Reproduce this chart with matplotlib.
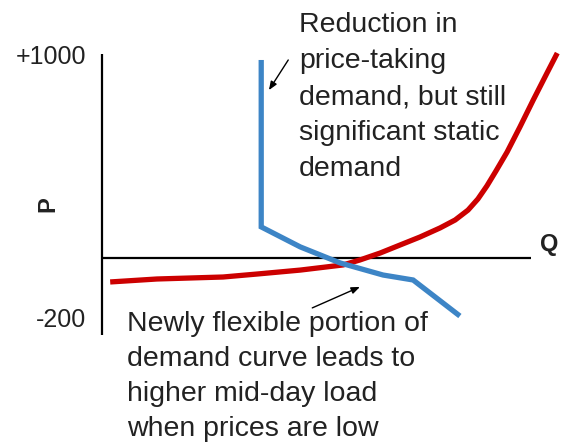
import matplotlib
matplotlib.use("Agg")
import matplotlib.pyplot as plt

plt.rcParams['font.family'] = ['Liberation Sans', 'DejaVu Sans']

# Supply curve (red): quantity Q vs price P
supply_q = [1.9, 12.8, 28.2, 36.1, 46.2, 56.2, 60.1, 64.8, 69.5, 74.1, 78.8, 82.3,
            85.3, 87.6, 89.7, 91.8, 94.4, 97.4, 100.5, 103.7, 106.1]
supply_p = [-121, -106, -96, -81, -61, -35, -10, 25, 66, 106, 152, 192,
            242, 298, 364, 439, 535, 662, 798, 934, 1035]

# Demand curve (blue)
demand_q = [37.1, 37.1, 46.2, 55.5, 65.5, 72.5, 83.4]
demand_p = [1000, 157, 56, -25, -86, -111, -293]

tick_labels = ["+1000", "-200"]
tick_values = [1015, -313]

note_top = "Reduction in\nprice-taking\ndemand, but still\nsignificant static\ndemand"
note_bottom = "Newly flexible portion of\ndemand curve leads to\nhigher mid-day load\nwhen prices are low"

fig = plt.figure(figsize=(5.62, 4.44), dpi=100)
ax = fig.add_axes([0, 0, 1, 1])
ax.set_xlim(-23.78, 107.2)
ax.set_ylim(-939.3, 1302.9)
ax.axis('off')

# Hand-drawn axes
ax.plot([0, 0], [-389, 1030], color='black', lw=1.6, solid_capstyle='butt')
ax.plot([0, 100], [0, 0], color='black', lw=1.6, solid_capstyle='butt')

ax.plot(supply_q, supply_p, color='#cc0000', lw=3.8, solid_capstyle='butt',
        solid_joinstyle='round')
ax.plot(demand_q, demand_p, color='#3d85c6', lw=3.8, solid_capstyle='butt',
        solid_joinstyle='miter')

txtc = '#222222'
for lab, v in zip(tick_labels, tick_values):
    ax.text(-3.7, v, lab, ha='right', va='center', fontsize=18, color=txtc)

ax.text(-12.6, 273, "P", rotation=90, ha='center', va='center', fontsize=17,
        fontweight='bold', color=txtc)
ax.text(104.2, 66, "Q", ha='center', va='center', fontsize=17,
        fontweight='bold', color=txtc)

ax.text(45.9, 813, note_top, ha='left', va='center', fontsize=20.5, color=txtc,
        linespacing=1.5)
ax.text(5.8, -596, note_bottom, ha='left', va='center', fontsize=20.5, color=txtc,
        linespacing=1.45)

arrow_kw = dict(arrowstyle='-|>,head_length=0.5,head_width=0.2', color='black', lw=1.0,
                shrinkA=0, shrinkB=0)
ax.annotate('', xy=(38.9, 848), xytext=(43.4, 1000), arrowprops=arrow_kw)
ax.annotate('', xy=(60.1, -146), xytext=(49.0, -252), arrowprops=arrow_kw)

fig.savefig('out.png', dpi=100)
